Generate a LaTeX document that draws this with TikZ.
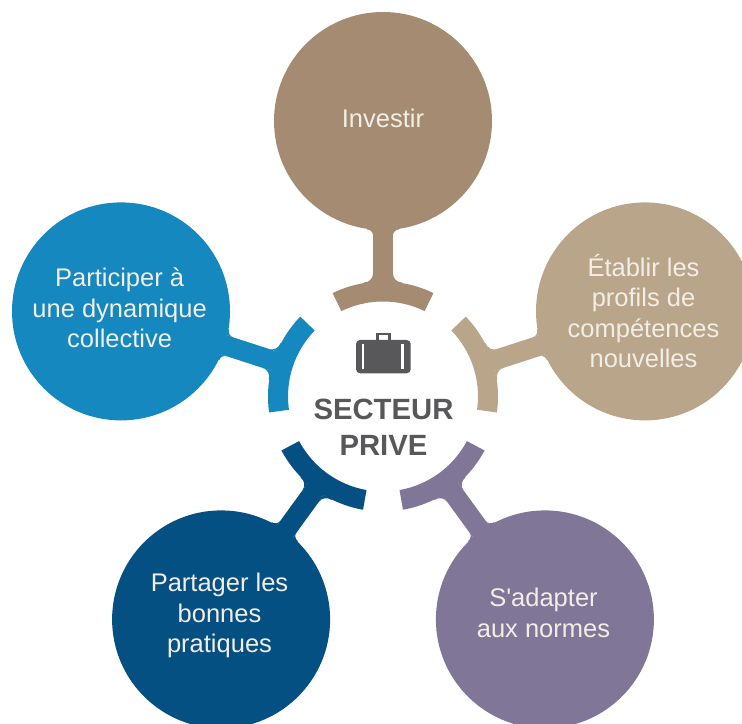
\documentclass[tikz,border=0pt]{standalone}
\usepackage{fontspec}
\setmainfont{Liberation Sans}
\definecolor{topc}{RGB}{164,139,113}
\definecolor{rightc}{RGB}{185,165,138}
\definecolor{lrc}{RGB}{128,118,151}
\definecolor{llc}{RGB}{4,80,131}
\definecolor{leftc}{RGB}{20,136,191}
\definecolor{txtc}{RGB}{242,238,230}
\definecolor{hubc}{RGB}{88,88,90}
\newcommand\petalparts[2]{%
  \begin{scope}[shift={(hub.center)}, rotate=#1, fill=#2]
    % arc segment around hub
    \fill (-26:95bp) arc[start angle=-26, end angle=26, radius=95bp]
          -- (26:115bp) arc[start angle=26, end angle=-26, radius=115bp] -- cycle;
    % fillets at arc side
    \fill (111,10) -- (123,10) arc[start angle=270, end angle=180, radius=9bp] -- (111,19) -- cycle;
    \fill (111,-10) -- (123,-10) arc[start angle=90, end angle=180, radius=9bp] -- (111,-19) -- cycle;
    % fillets at circle side
    \fill (170,10) -- (161,10) arc[start angle=270, end angle=360, radius=6bp] -- (170,16) -- cycle;
    \fill (170,-10) -- (161,-10) arc[start angle=90, end angle=0, radius=6bp] -- (170,-16) -- cycle;
  \end{scope}}
\begin{document}
\begin{tikzpicture}[x=1bp, y=1bp,
  sat/.style={circle, minimum size=218bp, inner sep=0pt, outer sep=0pt},
  lbl/.style={text=txtc, align=center, inner sep=0pt, font=\fontsize{25.5bp}{30.5bp}\selectfont},
  stem/.style={line width=20bp, shorten <=-3bp, shorten >=-3bp}]
\useasboundingbox (0,0) rectangle (742,724);
\node[circle, minimum size=230bp, inner sep=0pt, outer sep=0pt] (hub) at (383,327.5) {};
\node[sat, fill=topc]   (invest)  at (383,603) {};
\node[sat, fill=rightc] (profils) at (645,412.6) {};
\node[sat, fill=lrc]    (normes)  at (544.9,104.6) {};
\node[sat, fill=llc]    (partage) at (221.1,104.6) {};
\node[sat, fill=leftc]  (dynam)   at (121,412.6) {};
\draw[stem, topc]   (hub) -- (invest);
\draw[stem, rightc] (hub) -- (profils);
\draw[stem, lrc]    (hub) -- (normes);
\draw[stem, llc]    (hub) -- (partage);
\draw[stem, leftc]  (hub) -- (dynam);
\petalparts{90}{topc}
\petalparts{18}{rightc}
\petalparts{-54}{lrc}
\petalparts{-126}{llc}
\petalparts{162}{leftc}
% labels
\node[lbl] (tinvest)  at (383,606) {Investir};
\node[lbl] (tprofils) at (643.5,412.7) {Établir les\\profils de\\compétences\\nouvelles};
\node[lbl] (tdynam)   at (119.6,415.8) {Participer à\\une dynamique\\collective};
\node[lbl] (tpartage) at (219.5,108.1) {Partager les\\bonnes\\pratiques};
\node[lbl] (tnormes)  at (543.5,111.3) {S\textquotesingle adapter\\aux normes};
\node[text=hubc, align=center, inner sep=0pt, font=\bfseries\fontsize{29.3bp}{36bp}\selectfont] (thub) at (383.5,297.2) {SECTEUR\\PRIVE};
% briefcase icon
\fill[hubc, rounded corners=4bp] (356,350.7) rectangle (410.7,384);
\draw[hubc, line width=2.7bp] (377.35,383) -- (377.35,389.95) -- (389.65,389.95) -- (389.65,383);
\fill[white] (361.7,354.7) rectangle (364.3,379.7);
\fill[white] (401.3,354.7) rectangle (404,379.7);
\end{tikzpicture}
\end{document}
